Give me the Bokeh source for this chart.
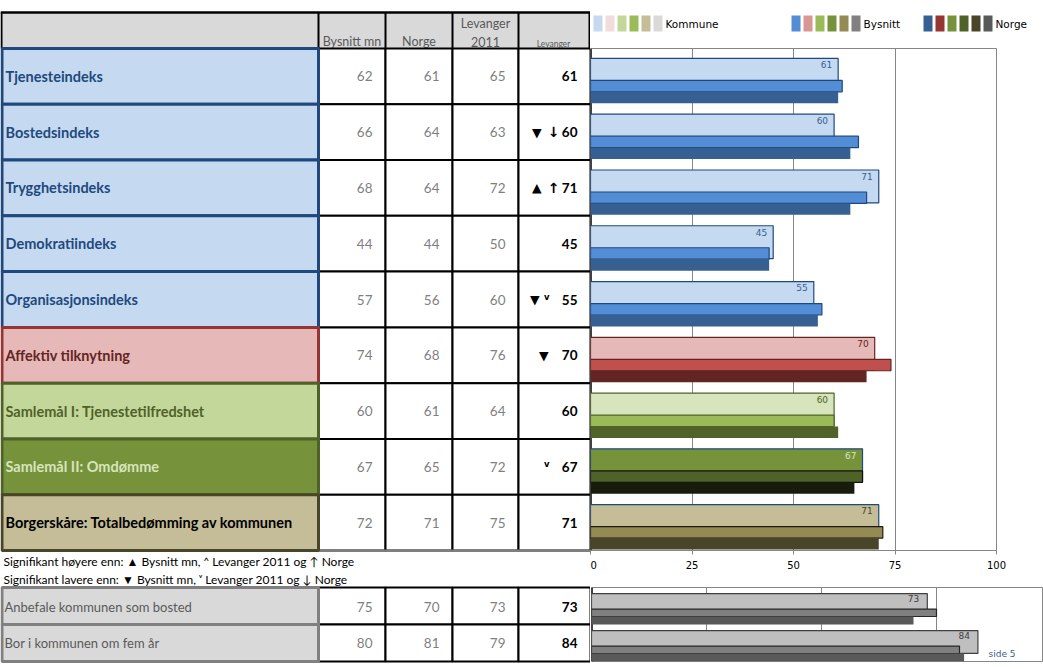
from bokeh.plotting import figure
from bokeh.models import Range1d, FactorRange, FixedTicker, Span, Label, ColumnDataSource
from bokeh.transform import dodge
from bokeh.layouts import row, column
from bokeh.core.properties import value
from bokeh.embed import file_html
from bokeh.resources import INLINE

# ---------------- data ----------------
categories = ["Tjenesteindeks", "Bostedsindeks", "Trygghetsindeks", "Demokratiindeks",
              "Organisasjonsindeks", "Affektiv tilknytning", "Samlemål I: Tjenestetilfredshet",
              "Samlemål II: Omdømme", "Borgerskåre: Totalbedømming av kommunen"]
bysnitt = [62, 66, 68, 44, 57, 74, 60, 67, 72]
norge = [61, 64, 64, 44, 56, 68, 61, 65, 71]
levanger_2011 = [65, 63, 72, 50, 60, 76, 64, 72, 75]
levanger = [61, 60, 71, 45, 55, 70, 60, 67, 71]
sig_bysnitt = ["", "▼", "▲", "", "▼", "▼", "", "", ""]
sig_2011 = ["", "", "", "", "v", "", "", "v", ""]
sig_norge = ["", "↓", "↑", "", "", "", "", "", ""]

extra_categories = ["Anbefale kommunen som bosted", "Bor i kommunen om fem år"]
extra_bysnitt = [75, 80]
extra_norge = [70, 81]
extra_levanger_2011 = [73, 79]
extra_levanger = [73, 84]

header_labels = ["Bysnitt mn", "Norge", "Levanger", "2011", "Levanger"]
legend_series = ["Kommune", "Bysnitt", "Norge"]
axis_ticks = [0, 25, 50, 75, 100]
notes = ["Signifikant høyere enn: ▲ Bysnitt mn,  ˄ Levanger 2011 og ↑ Norge",
         "Signifikant lavere enn: ▼ Bysnitt mn,  ᵛ Levanger 2011 og ↓ Norge"]
page_label = "side 5"

# ---------------- styles ----------------
group = ["blue"] * 5 + ["red", "lgreen", "green", "khaki"]
STY = {
    "blue":   dict(cell="#C5D9F1", border="#1F497D", text="#1F497D",
                   k="#C5D9F1", kl="#1F497D", b="#538DD5", bl="#1F497D", n="#366092", lab="#366092"),
    "red":    dict(cell="#E6B8B7", border="#963634", text="#632523",
                   k="#E6B8B7", kl="#632523", b="#C0504D", bl="#632523", n="#632523", lab="#632523"),
    "lgreen": dict(cell="#C4D79B", border="#4F6228", text="#4F6228",
                   k="#D8E4BC", kl="#4F6228", b="#9BBB59", bl="#4F6228", n="#4F6228", lab="#4F6228"),
    "green":  dict(cell="#76933C", border="#4F6228", text="#D8E4BC",
                   k="#76933C", kl="#1F497D", b="#4F6228", bl="#111111", n="#181C0C", lab="#D8E4BC"),
    "khaki":  dict(cell="#C4BD97", border="#494529", text="#000000",
                   k="#C4BD97", kl="#1F497D", b="#948A54", bl="#1D1B10", n="#494529", lab="#494529"),
}
legend_colors = [
    ["#C5D9F1", "#F2DCDB", "#C4D79B", "#9BBB59", "#C4BD97", "#D9D9D9"],
    ["#538DD5", "#DA9694", "#9BBB59", "#76933C", "#948A54", "#808080"],
    ["#366092", "#963634", "#76933C", "#4F6228", "#494529", "#595959"],
]
GRID = "#868686"
FONT = value("Lato")
SFONT = value("DejaVu Sans")

# ---------------- table figure ----------------
tbl = figure(width=590, height=669, x_range=Range1d(0, 590), y_range=Range1d(669, 0),
             output_backend="svg", toolbar_location=None, min_border=0,
             x_axis_location=None, y_axis_location=None, outline_line_color=None)
tbl.grid.visible = False
tbl.frame_align = False

cols = [(318, 385), (385, 452), (452, 518), (518, 590)]
H_TOP, H_BOT = 12, 48
rh = (550 - 48) / len(categories)
tops = [48 + i * rh for i in range(len(categories))]
bots = [t + rh for t in tops]
mids = [t + rh / 2 for t in tops]
low_tops, low_bots, low_mids = [587, 624], [624, 661], [606, 642]

# header
tbl.quad(left=[0], right=[590], top=[H_TOP], bottom=[H_BOT], fill_color="#D9D9D9", line_color=None)
tbl.segment(x0=[0], y0=[H_TOP], x1=[590], y1=[H_TOP], line_color="black", line_width=2.5)
tbl.segment(x0=[1] + [c[0] for c in cols] + [589], y0=[H_TOP] * 6,
            x1=[1] + [c[0] for c in cols] + [589], y1=[H_BOT] * 6, line_color="black", line_width=2)
hx = [351.5, 418.5, 485, 485, 553]
hy = [41, 41, 23, 41, 43]
hs = ["12.5px", "12.5px", "12.5px", "12.5px", "8.5px"]
for t, x, y, s in zip(header_labels, hx, hy, hs):
    tbl.text(x=[x], y=[y], text=[t], text_align="center", text_baseline="middle",
             text_font=FONT, text_font_size=s, text_color="#595959")

# value cells
for (l, r) in cols:
    tbl.quad(left=[l] * len(tops), right=[r] * len(tops), top=tops, bottom=bots,
             fill_color="white", line_color="black", line_width=2)
    tbl.quad(left=[l] * 2, right=[r] * 2, top=low_tops, bottom=low_bots,
             fill_color="white", line_color="black", line_width=2)
tbl.segment(x0=[318], y0=[550], x1=[590], y1=[550], line_color="#808080", line_width=2)

# label cells
tbl.quad(left=[1.5] * len(tops), right=[318] * len(tops), top=tops, bottom=bots,
         fill_color=[STY[g]["cell"] for g in group], line_color=[STY[g]["border"] for g in group],
         line_width=3)
tbl.text(x=[5] * len(tops), y=mids, text=categories, text_baseline="middle", text_font=FONT,
         text_font_size="14.5px", text_font_style="bold", text_color=[STY[g]["text"] for g in group])
tbl.quad(left=[1.5] * 2, right=[318] * 2, top=low_tops, bottom=low_bots,
         fill_color="#D9D9D9", line_color="#808080", line_width=3)
tbl.text(x=[4] * 2, y=low_mids, text=extra_categories, text_baseline="middle", text_font=FONT,
         text_font_size="13px", text_color="#595959")

# numbers
for vals, (l, r) in zip([bysnitt, norge, levanger_2011], cols[:3]):
    tbl.text(x=[r - 13] * len(vals), y=mids, text=[str(v) for v in vals], text_align="right",
             text_baseline="middle", text_font=FONT, text_font_size="13.5px", text_color="#7F7F7F")
tbl.text(x=[cols[3][1] - 13] * len(levanger), y=mids, text=[str(v) for v in levanger],
         text_align="right", text_baseline="middle", text_font=FONT, text_font_size="13.5px",
         text_font_style="bold", text_color="black")
for vals, (l, r) in zip([extra_bysnitt, extra_norge, extra_levanger_2011], cols[:3]):
    tbl.text(x=[r - 13] * 2, y=low_mids, text=[str(v) for v in vals], text_align="right",
             text_baseline="middle", text_font=FONT, text_font_size="13.5px", text_color="#7F7F7F")
tbl.text(x=[cols[3][1] - 13] * 2, y=low_mids, text=[str(v) for v in extra_levanger],
         text_align="right", text_baseline="middle", text_font=FONT, text_font_size="13.5px",
         text_font_style="bold", text_color="black")

# significance symbols (placement mimics right-aligned cell text)
a_x = [541 if c else (539 if b else 548) for b, c in zip(sig_2011, sig_norge)]
tbl.text(x=a_x, y=mids, text=sig_bysnitt, text_align="right", text_baseline="middle",
         text_font=SFONT, text_font_size="12.5px", text_color="black")
tbl.text(x=[549] * len(sig_2011), y=[m - 3 for m in mids], text=sig_2011, text_align="right",
         text_baseline="middle", text_font=SFONT, text_font_size="8.5px", text_font_style="bold",
         text_color="black")
tbl.text(x=[559] * len(sig_norge), y=mids, text=sig_norge, text_align="right", text_baseline="middle",
         text_font=SFONT, text_font_size="14px", text_font_style="bold", text_color="black")

# notes
tbl.text(x=[3, 3], y=[561, 579], text=notes, text_baseline="middle", text_font=FONT,
         text_font_size="12px", text_color="black")

# ---------------- legend figure ----------------
leg = figure(width=453, height=48, x_range=Range1d(590, 1043), y_range=Range1d(48, 0),
             output_backend="svg", toolbar_location=None, min_border=0,
             x_axis_location=None, y_axis_location=None, outline_line_color=None)
leg.grid.visible = False
leg.frame_align = False
for start, name, colors in zip([593, 791, 923], legend_series, legend_colors):
    lefts = [start + k * 12 for k in range(len(colors))]
    leg.quad(left=lefts, right=[x + 9 for x in lefts], top=[15] * len(colors), bottom=[31] * len(colors),
             fill_color=colors, line_color=None)
    leg.text(x=[start + 72], y=[23], text=[name], text_baseline="middle", text_font=SFONT,
             text_font_size="10.5px", text_color="black")

# ---------------- main bar chart ----------------
src = ColumnDataSource(dict(
    cat=categories, lev=levanger, bys=bysnitt, nor=norge, lev_str=[str(v) for v in levanger],
    kf=[STY[g]["k"] for g in group], kl=[STY[g]["kl"] for g in group],
    bf=[STY[g]["b"] for g in group], bl=[STY[g]["bl"] for g in group],
    nf=[STY[g]["n"] for g in group], lab=[STY[g]["lab"] for g in group],
))
ch = figure(width=453, height=532, x_range=Range1d(0, 100), y_range=FactorRange(factors=categories[::-1]),
            output_backend="svg", toolbar_location=None, min_border_left=0, min_border_right=47,
            min_border_top=0, min_border_bottom=30, y_axis_location=None)
ch.frame_align = False
ch.ygrid.visible = False
ch.xgrid.ticker = FixedTicker(ticks=axis_ticks[1:])
ch.xgrid.grid_line_color = GRID
ch.outline_line_color = GRID
ch.xaxis.ticker = FixedTicker(ticks=axis_ticks)
ch.xaxis.axis_line_color = GRID
ch.xaxis.major_tick_line_color = GRID
ch.xaxis.major_tick_out = 4
ch.xaxis.major_tick_in = 0
ch.xaxis.minor_tick_line_color = None
ch.xaxis.major_label_text_font = "DejaVu Sans"
ch.xaxis.major_label_text_font_size = "10px"
ch.xaxis.major_label_text_color = "black"
ch.xaxis.major_label_standoff = 6
ch.add_layout(Span(location=0, dimension="height", line_color="black", line_width=2.5, level="underlay"))

ch.hbar(y=dodge("cat", 0.027, range=ch.y_range), left=0, right="lev", height=0.59,
        fill_color="kf", line_color="kl", line_width=1.2, source=src)
ch.hbar(y=dodge("cat", -0.175, range=ch.y_range), left=0, right="bys", height=0.205,
        fill_color="bf", line_color="bl", line_width=1.2, source=src)
ch.hbar(y=dodge("cat", -0.38, range=ch.y_range), left=0, right="nor", height=0.205,
        fill_color="nf", line_color=None, source=src)
ch.text(x="lev", y=dodge("cat", 0.21, range=ch.y_range), text="lev_str", x_offset=-6,
        text_align="right", text_baseline="middle", text_font=SFONT, text_font_size="9px",
        text_color="lab", source=src)

# ---------------- lower bar chart ----------------
src2 = ColumnDataSource(dict(cat=extra_categories, lev=extra_levanger, bys=extra_bysnitt, nor=extra_norge,
                             lev_str=[str(v) for v in extra_levanger]))
ch2 = figure(width=453, height=89, x_range=Range1d(0, 452 / 4.6), y_range=FactorRange(factors=extra_categories[::-1]),
             output_backend="svg", toolbar_location=None, min_border_left=1, min_border_right=0,
             min_border_top=7, min_border_bottom=8, x_axis_location=None, y_axis_location=None)
ch2.frame_align = False
ch2.ygrid.visible = False
ch2.xgrid.ticker = FixedTicker(ticks=axis_ticks[1:4])
ch2.xgrid.grid_line_color = GRID
ch2.outline_line_color = GRID
ch2.add_layout(Span(location=0, dimension="height", line_color="black", line_width=2.5, level="underlay"))
ch2.hbar(y=dodge("cat", 0.027, range=ch2.y_range), left=0, right="lev", height=0.62,
         fill_color="#BFBFBF", line_color="#404040", line_width=1.2, source=src2)
ch2.hbar(y=dodge("cat", -0.184, range=ch2.y_range), left=0, right="bys", height=0.2,
         fill_color="#808080", line_color="#262626", line_width=1.2, source=src2)
ch2.hbar(y=dodge("cat", -0.392, range=ch2.y_range), left=0, right="nor", height=0.216,
         fill_color="#595959", line_color=None, source=src2)
ch2.text(x="lev", y=dodge("cat", 0.2, range=ch2.y_range), text="lev_str", x_offset=-8,
         text_align="right", text_baseline="middle", text_font=SFONT, text_font_size="9px",
         text_color="#404040", source=src2)
ch2.add_layout(Label(x=86.3, y=0.19, text=page_label, text_baseline="middle", text_align="left",
                     text_font="DejaVu Sans", text_font_size="9px", text_color="#365F91"))

layout = row(tbl, column(leg, ch, ch2))
open("out.html", "w").write(file_html(layout, INLINE))
